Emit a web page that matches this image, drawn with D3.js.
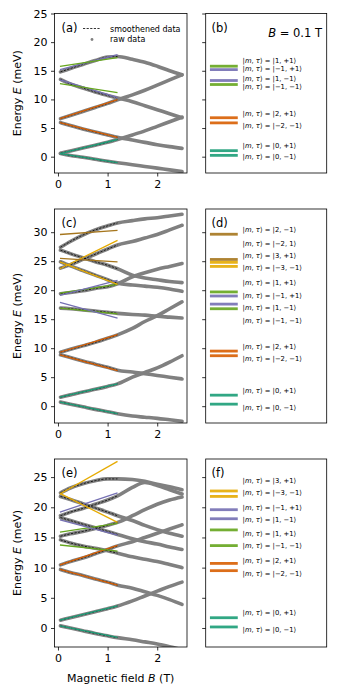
<!DOCTYPE html>
<html>
<head>
<meta charset="utf-8">
<script src="https://cdn.jsdelivr.net/npm/d3@7/dist/d3.min.js"></script>
<style>
body{margin:0;background:#fff;}
text{font-family:'DejaVu Sans',sans-serif;fill:#000;}
</style>
</head>
<body>
<svg id="viewer"></svg>
<script>
// magnetic field values where the raw curves were read (T)
var rawB = [0.05,0.25,0.5,0.75,1.0,1.2,1.5,1.75,2.0,2.25,2.5];

// raw energies (meV), one row per level, panel (a)
var rawA =
[
  [0.55,0.2,-0.1,-0.45,-0.8,-1.05,-1.4,-1.7,-2.0,-2.3,-2.6],
  [0.6,1.0,1.5,2.0,2.5,3.0,3.8,4.5,5.3,6.1,6.9],
  [5.95,5.45,4.85,4.3,3.8,3.4,2.9,2.5,2.1,1.75,1.45],
  [6.65,7.2,7.9,8.6,9.3,9.95,10.8,11.6,12.5,13.4,14.3],
  [13.5,12.7,12.0,11.3,10.7,10.25,9.6,8.9,8.2,7.5,6.8],
  [14.8,15.4,16.1,16.8,17.4,17.5,17.0,16.5,15.8,15.0,14.3]
];

// panel (c)
var rawC =
[
  [0.7,0.35,-0.1,-0.55,-0.95,-1.3,-1.7,-1.9,-2.1,-2.35,-2.6],
  [1.55,1.95,2.45,2.9,3.4,3.85,5.0,5.8,6.6,7.6,8.7],
  [8.85,8.4,7.8,7.25,6.7,6.2,5.9,5.6,5.3,5.0,4.7],
  [9.3,9.8,10.4,11.0,11.7,12.3,13.4,14.6,15.6,16.8,18.0],
  [16.9,16.8,16.6,16.4,16.2,16.0,15.8,15.7,15.5,15.35,15.2],
  [19.4,19.6,19.9,20.3,20.6,21.1,22.3,23.0,23.6,24.1,24.6],
  [24.9,24.2,23.4,22.6,21.8,21.2,20.9,20.7,20.5,20.2,19.8],
  [26.9,26.3,25.6,24.9,24.3,23.7,22.6,22.1,21.8,21.5,21.3],
  [23.8,24.4,25.3,26.2,27.1,27.8,28.4,29.0,29.6,30.4,31.2],
  [27.4,28.4,29.5,30.4,31.1,31.6,32.0,32.3,32.5,32.8,33.1]
];

// panel (e)
var rawE =
[
  [0.35,0.0,-0.45,-0.9,-1.3,-1.6,-1.95,-2.3,-2.65,-3.1,-3.6],
  [1.3,1.7,2.2,2.7,3.2,3.65,4.5,5.3,6.1,6.9,7.6],
  [9.7,9.2,8.7,8.1,7.6,7.1,6.6,6.0,5.4,4.7,3.9],
  [10.45,11.0,11.6,12.3,13.0,13.6,14.3,15.0,15.7,16.4,17.1],
  [14.6,14.1,13.6,13.2,12.8,12.4,11.8,11.4,11.0,10.5,10.0],
  [15.2,15.6,16.0,16.5,17.0,17.5,18.6,19.6,20.5,21.2,21.7],
  [18.3,17.8,17.2,16.6,16.0,15.5,14.8,14.3,13.9,13.4,13.0],
  [18.6,19.2,19.8,20.5,21.2,21.9,23.3,24.1,23.6,22.9,22.2],
  [21.8,21.3,20.6,19.9,19.2,18.6,17.8,17.0,16.3,15.7,15.2],
  [22.4,23.2,23.9,24.4,24.7,24.7,24.6,24.3,23.8,23.4,22.9]
];

// linear fits: state, E at fitB[0], E at fitB[1]
var fitB = [0.04,1.2];
var fitsA = [['t',0.55,-1.05],['t',0.55,3.0],['o',5.95,3.35],['o',6.65,9.95],['p',13.4,10.3],['p',15.2,17.8],['g',12.75,11.2],['g',15.75,17.3]];
var fitsC = [['t',0.7,-1.3],['t',1.55,3.85],['o',8.85,6.15],['o',9.3,12.35],['g',16.9,15.9],['g',19.5,21.0],['p',17.9,15.2],['p',19.1,21.7],['y',24.9,21.0],['y',23.7,28.6],['b',25.5,24.9],['b',29.6,30.3]];
var fitsE = [['t',0.35,-1.55],['t',1.3,3.65],['o',9.7,7.1],['o',10.45,13.7],['g',13.75,12.75],['g',15.9,17.35],['p',17.9,15.4],['p',19.2,22.4],['y',22.3,17.5],['y',22.2,27.6]];

// level energies at B = 0.1 T (right panels)
var levelsB = [['g',15.8],['p',15.2],['p',13.3],['g',12.6],['o',6.8],['o',5.9],['t',1.05],['t',0.23]];
var levelsD = [['b',29.65],['b',25.3],['y',24.8],['y',24.1],['g',19.7],['p',19.0],['p',17.6],['g',16.8],['o',9.5],['o',8.7],['t',1.9],['t',0.35]];
var levelsF = [['y',22.7],['y',21.8],['p',19.6],['p',18.1],['g',16.25],['g',13.65],['o',10.7],['o',9.5],['t',1.7],['t',0.17]];

// state labels and the energy they are written at
var labelsB = [['1, +1',16.7],['\u22121, +1',15.4],['1, \u22121',13.7],['\u22121, \u22121',12.15],['2, +1',7.52],['\u22122, \u22121',5.42],['0, +1',1.98],['0, \u22121',-0.05]];
var labelsD = [['2, \u22121',30.47],['\u22122, 1',28.05],['3, +1',26.03],['\u22123, \u22121',23.91],['1, +1',21.33],['\u22121, +1',19.09],['1, \u22121',16.95],['\u22121, \u22121',14.83],['2, +1',10.34],['\u22122, \u22121',8.22],['0, +1',2.76],['0, \u22121',-0.22]];
var labelsF = [['3, +1',24.38],['\u22123, \u22121',22.44],['\u22121, +1',20.02],['1, \u22121',18.03],['1, +1',15.70],['\u22121, \u22121',13.65],['2, +1',11.11],['\u22122, \u22121',9.07],['0, +1',2.49],['0, \u22121',-0.33]];

var xTicks = [0,1,2];
var yTicksA = [0,5,10,15,20,25];
var yTicksC = [0,5,10,15,20,25,30];
var yTicksE = [0,5,10,15,20,25];

var stateColor = d3.scaleOrdinal()
  .domain(['t','o','p','g','y','b'])
  .range(['#1b9e77','#d95f02','#7570b3','#66a61e','#e6ab02','#a6761d']);

var viewer = d3.select('#viewer')
  .attr('width',340)
  .attr('height',700);

var x = d3.scaleLinear().domain([-0.07,2.6]).range([54.5,187]);
var xr = d3.scaleLinear().domain([0,1]).range([205.7,326.7]);

var panels =
[
  {tag:'(a)',tagR:'(b)',top:13.5,bottom:173,dom:[-2.85,25],ticks:yTicksA,raw:rawA,fits:fitsA,levels:levelsB,labels:labelsB},
  {tag:'(c)',tagR:'(d)',top:209,bottom:423,dom:[-2.9,34],ticks:yTicksC,raw:rawC,fits:fitsC,levels:levelsD,labels:labelsD},
  {tag:'(e)',tagR:'(f)',top:459,bottom:647,dom:[-3.15,28],ticks:yTicksE,raw:rawE,fits:fitsE,levels:levelsF,labels:labelsF}
];

panels.forEach(function(p,i){
  var y = d3.scaleLinear().domain(p.dom).range([p.bottom,p.top]);

  viewer.append('clipPath').attr('id','clip'+i)
    .append('rect')
      .attr('x',54.5).attr('y',p.top)
      .attr('width',132.5).attr('height',p.bottom-p.top);

  var plot = viewer.append('g').attr('clip-path','url(#clip'+i+')');

  var rawLine = d3.line()
    .x(function(d){return x(d[0]);})
    .y(function(d){return y(d[1]);})
    .curve(d3.curveMonotoneX);

  var rows = p.raw.map(function(r){return r.map(function(e,j){return [rawB[j],e];});});

  plot.selectAll('.raw')
    .data(rows)
    .enter().append('path')
      .attr('class','raw')
      .attr('d',rawLine)
      .style('fill','none')
      .style('stroke','#808080')
      .style('stroke-width',3.6)
      .style('stroke-linecap','round')
      .style('stroke-linejoin','round');

  plot.selectAll('.smooth')
    .data(rows.map(function(r){return r.filter(function(d){return d[0]<=1.2;});}))
    .enter().append('path')
      .attr('class','smooth')
      .attr('d',rawLine)
      .style('fill','none')
      .style('stroke','#000')
      .style('stroke-width',0.8)
      .style('stroke-dasharray','2.2,1.4');

  plot.selectAll('.fit')
    .data(p.fits)
    .enter().append('line')
      .attr('class','fit')
      .attr('x1',x(fitB[0]))
      .attr('x2',x(fitB[1]))
      .attr('y1',function(d){return y(d[1]);})
      .attr('y2',function(d){return y(d[2]);})
      .style('stroke',function(d){return stateColor(d[0]);})
      .style('stroke-width',1.3);

  // left axes
  var ya = viewer.append('g')
    .attr('transform','translate(54.5,0)')
    .call(d3.axisLeft(y).tickValues(p.ticks).tickSize(3.5).tickPadding(3.5).tickFormat(d3.format('d')));
  var xa = viewer.append('g')
    .attr('transform','translate(0,'+p.bottom+')')
    .call(d3.axisBottom(x).tickValues(xTicks).tickSize(3.5).tickPadding(3.5).tickFormat(d3.format('d')));
  [ya,xa].forEach(function(a){
    a.select('.domain').remove();
    a.selectAll('line').style('stroke','#000').style('stroke-width',0.8);
    a.selectAll('text').style('font-family',"'DejaVu Sans',sans-serif").style('font-size','11px').style('fill','#000');
  });

  viewer.append('rect')
    .attr('x',54.5).attr('y',p.top)
    .attr('width',132.5).attr('height',p.bottom-p.top)
    .style('fill','none').style('stroke','#000').style('stroke-width',0.8);

  viewer.append('text')
    .attr('x',61.5).attr('y',p.top+18)
    .style('font-size','11.5px')
    .text(p.tag);

  viewer.append('text')
    .attr('transform','translate(21,'+((p.top+p.bottom)/2)+') rotate(-90)')
    .attr('text-anchor','middle')
    .style('font-size','11px')
    .call(function(t){
      t.append('tspan').text('Energy ');
      t.append('tspan').style('font-style','italic').text('E');
      t.append('tspan').text(' (meV)');
    });

  // right panel: levels at B = 0.1 T
  var ra = viewer.append('g')
    .attr('transform','translate(205.7,0)')
    .call(d3.axisLeft(y).tickValues(p.ticks).tickSize(3.5).tickFormat(''));
  ra.select('.domain').remove();
  ra.selectAll('line').style('stroke','#000').style('stroke-width',0.8);

  viewer.append('rect')
    .attr('x',205.7).attr('y',p.top)
    .attr('width',121).attr('height',p.bottom-p.top)
    .style('fill','none').style('stroke','#000').style('stroke-width',0.8);

  viewer.selectAll('.level'+i)
    .data(p.levels)
    .enter().append('line')
      .attr('class','level'+i)
      .attr('x1',xr(0.035))
      .attr('x2',xr(0.265))
      .attr('y1',function(d){return y(d[1]);})
      .attr('y2',function(d){return y(d[1]);})
      .style('stroke',function(d){return stateColor(d[0]);})
      .style('stroke-width',2.8)
      .style('opacity',0.9);

  var lab = viewer.selectAll('.ket'+i)
    .data(p.labels)
    .enter().append('text')
      .attr('class','ket'+i)
      .attr('x',xr(0.305))
      .attr('y',function(d){return y(d[1]);})
      .attr('dy','0.35em')
      .style('font-size','6.8px');
  lab.append('tspan').text('|');
  lab.append('tspan').style('font-style','italic').text('m');
  lab.append('tspan').text(', ');
  lab.append('tspan').style('font-style','italic').text('\u03c4');
  lab.append('tspan').text(function(d){return '\u27e9 = |'+d[0]+'\u27e9';});

  viewer.append('text')
    .attr('x',211.5).attr('y',p.top+18)
    .style('font-size','11.5px')
    .text(p.tagR);
});

// B label in (b)
viewer.append('text')
  .attr('x',322).attr('y',37)
  .attr('text-anchor','end')
  .style('font-size','11.5px')
  .call(function(t){
    t.append('tspan').style('font-style','italic').text('B');
    t.append('tspan').text(' = 0.1 T');
  });

// legend of (a)
viewer.append('line')
  .attr('x1',83).attr('x2',101).attr('y1',28.5).attr('y2',28.5)
  .style('stroke','#000').style('stroke-width',0.8).style('stroke-dasharray','2.2,1.4');
viewer.append('text').attr('x',110).attr('y',31.5).style('font-size','8px').text('smoothened data');
viewer.append('circle').attr('cx',92).attr('cy',39.5).attr('r',1.4).style('fill','#808080');
viewer.append('text').attr('x',110).attr('y',42.3).style('font-size','8px').text('raw data');

viewer.append('text')
  .attr('x',120.7).attr('y',682)
  .attr('text-anchor','middle')
  .style('font-size','11px')
  .call(function(t){
    t.append('tspan').text('Magnetic field ');
    t.append('tspan').style('font-style','italic').text('B');
    t.append('tspan').text(' (T)');
  });
</script>
</body>
</html>
